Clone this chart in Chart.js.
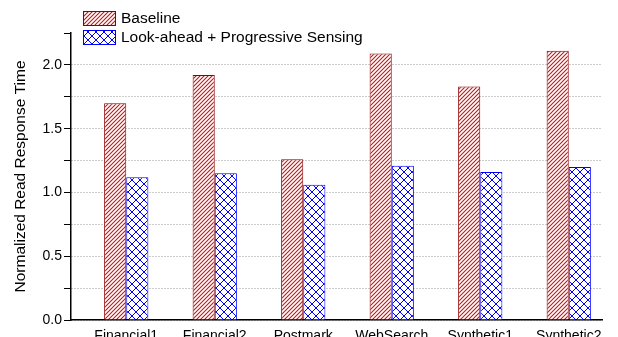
<!DOCTYPE html>
<html>
<head>
<meta charset="utf-8">
<script src="https://cdn.jsdelivr.net/npm/chart.js@4"></script>
<style>
  html, body { margin: 0; padding: 0; background: #fff; }
  #wrap { width: 618px; height: 337px; }
</style>
</head>
<body>
<div id="wrap"><canvas id="myChartBar" width="618" height="337"></canvas></div>
<script>
let workloads = ["Financial1", "Financial2", "Postmark", "WebSearch", "Synthetic1", "Synthetic2"];
let baseline = [1.70, 1.92, 1.26, 2.09, 1.83, 2.11];
let lookahead = [1.12, 1.15, 1.06, 1.21, 1.16, 1.20];
let seriesNames = ["Baseline", "Look-ahead + Progressive Sensing"];
let yTicks = [0.0, 0.5, 1.0, 1.5, 2.0];

Chart.defaults.font.family = "'Liberation Sans', Arial, sans-serif";
Chart.defaults.color = "#000";

// hatch fills
function hatch(color, size, cross, lw) {
  let c = document.createElement("canvas");
  c.width = size; c.height = size;
  let ctx = c.getContext("2d");
  ctx.fillStyle = "#fff";
  ctx.fillRect(0, 0, size, size);
  ctx.strokeStyle = color;
  ctx.lineWidth = lw;
  ctx.beginPath();
  ctx.moveTo(-1, size + 1); ctx.lineTo(size + 1, -1);
  ctx.moveTo(-1, 1); ctx.lineTo(1, -1);
  ctx.moveTo(size - 1, size + 1); ctx.lineTo(size + 1, size - 1);
  if (cross) {
    ctx.moveTo(-1, -1); ctx.lineTo(size + 1, size + 1);
    ctx.moveTo(size - 1, -1); ctx.lineTo(size + 1, 1);
    ctx.moveTo(-1, size - 1); ctx.lineTo(1, size + 1);
  }
  ctx.stroke();
  return ctx.createPattern(c, "repeat");
}
let redFill = hatch("#c01818", 4, false, 1.1);
let blueFill = hatch("#0000ff", 8, true, 1);

// legend drawn in the top-left corner like the original figure
let boxLegend = {
  id: "boxLegend",
  afterDraw(chart) {
    let ctx = chart.ctx;
    ctx.save();
    chart.data.datasets.forEach(function(ds, i) {
      let y = 11 + i * 19;
      ctx.fillStyle = ds.backgroundColor;
      ctx.fillRect(83, y, 33, 15);
      ctx.strokeStyle = ds.borderColor;
      ctx.lineWidth = 1;
      ctx.strokeRect(83.5, y + 0.5, 32, 14);
      ctx.fillStyle = "#000";
      ctx.font = "15.5px 'Liberation Sans', Arial, sans-serif";
      ctx.textBaseline = "middle";
      ctx.fillText(ds.label, 121, y + 8);
    });
    ctx.restore();
  }
};

// the original leaves more room left of the first group than right of the last
let shiftCategories = {
  id: "shiftCategories",
  afterLayout(chart) {
    let x = chart.scales.x;
    x._startPixel = x.left + 11;
    x._length = x.right - x.left;
  }
};

new Chart(document.getElementById("myChartBar"), {
  type: 'bar',
  data: {
    labels: workloads,
    datasets: [{
      label: seriesNames[0],
      data: baseline,
      backgroundColor: redFill,
      borderColor: "#8b0000",
      borderWidth: 1
    }, {
      label: seriesNames[1],
      data: lookahead,
      backgroundColor: blueFill,
      borderColor: "#0000ff",
      borderWidth: 1
    }]
  },
  options: {
    responsive: false,
    animation: false,
    layout: { padding: { top: 33, right: 16, left: 0, bottom: 0 } },
    datasets: { bar: { categoryPercentage: 0.5, barPercentage: 1.0 } },
    plugins: { legend: { display: false }, tooltip: { enabled: false } },
    scales: {
      x: {
        grid: { display: false },
        border: { color: "#000", width: 1.5 },
        ticks: { font: { size: 14 }, padding: 0, maxRotation: 0 },
        afterFit: function(s) { s.height = 17; }
      },
      y: {
        min: 0,
        max: 2.25,
        ticks: {
          stepSize: 0.25,
          font: { size: 14 },
          padding: 2,
          callback: function(v) {
            return yTicks.indexOf(v) >= 0 ? v.toFixed(1) : "";
          }
        },
        grid: {
          color: function(c) { return c.tick && c.tick.value >= 2.25 ? "rgba(0,0,0,0)" : "#999"; },
          tickColor: "#000",
          tickLength: 7,
          tickBorderDash: [],
          lineWidth: 1
        },
        border: { color: "#000", width: 1.5, dash: [1, 2] },
        title: {
          display: true,
          text: "Normalized Read Response Time",
          font: { size: 15.5 },
          padding: { top: 11, bottom: 0 }
        },
        afterFit: function(s) { s.width = 71; }
      }
    }
  },
  plugins: [boxLegend, shiftCategories]
});
</script>
</body>
</html>
